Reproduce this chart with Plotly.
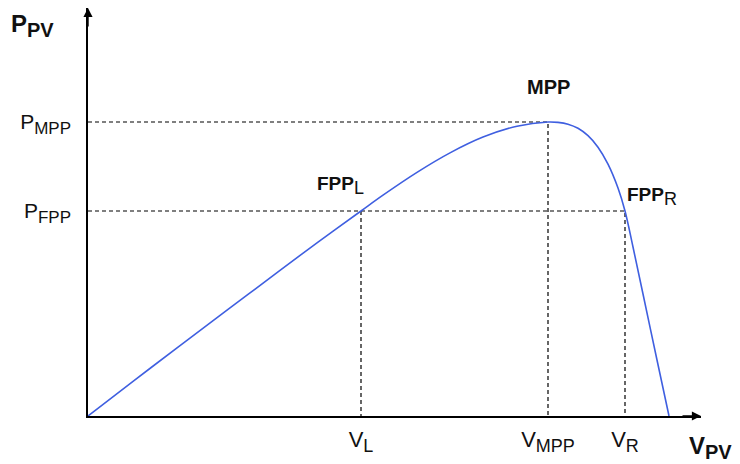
import plotly.graph_objects as go

# PV curve (arbitrary units)
V = [0, 46, 92, 140, 192, 230, 273, 295, 329, 362, 395, 429, 460, 470, 480, 490, 500, 510, 520, 530, 537, 545, 555, 569, 581]
P = [0, 35.4, 70.4, 106.6, 145.6, 173.9, 205, 220.8, 243.6, 263.1, 278.9, 289.8, 294, 293.6, 291.8, 287.7, 280.3,
     268.8, 251.8, 227.9, 205, 169, 122, 56, 0]

V_MPP, P_MPP = 460, 294
V_L, V_R, P_FPP = 273, 537, 205
X_MAX, Y_MAX = 613, 408

FONT = "Liberation Sans, Arial, sans-serif"
TXT = "#111111"
BLUE = "#3f5fe0"

fig = go.Figure()

dash = dict(color="black", width=1.2, dash="4px,3px")
# dashed guides
fig.add_trace(go.Scatter(x=[0, V_MPP, V_MPP], y=[P_MPP, P_MPP, 0], mode="lines", line=dash, hoverinfo="skip"))
fig.add_trace(go.Scatter(x=[0, V_R, V_R], y=[P_FPP, P_FPP, 0], mode="lines", line=dash, hoverinfo="skip"))
fig.add_trace(go.Scatter(x=[V_L, V_L], y=[P_FPP, 0], mode="lines", line=dash, hoverinfo="skip"))

# curve
fig.add_trace(go.Scatter(x=V, y=P, mode="lines", line=dict(color=BLUE, width=1.6, shape="spline", smoothing=1)))

def sub(main, s, ssize, bold_main=False, bold_sub=False):
    m = f"<b>{main}</b>" if bold_main else main
    ss = f"<b>{s}</b>" if bold_sub else s
    return f"{m}<sub><span style='font-size:{ssize}px'>{ss}</span></sub>"

ann = []
# arrows
ann.append(dict(x=X_MAX, y=0, ax=X_MAX - 20, ay=0, xref="x", yref="y", axref="x", ayref="y",
                text="", showarrow=True, arrowhead=2, arrowsize=1.3, arrowwidth=1.4, arrowcolor="black"))
ann.append(dict(x=0, y=Y_MAX, ax=0, ay=Y_MAX - 20, xref="x", yref="y", axref="x", ayref="y",
                text="", showarrow=True, arrowhead=2, arrowsize=1.3, arrowwidth=1.4, arrowcolor="black"))
# axis titles
ann.append(dict(x=0, y=Y_MAX, xref="x", yref="y", xanchor="left", yanchor="top", xshift=-79, yshift=0,
                text=sub("P", "PV", 20, True, True), showarrow=False, font=dict(size=24, color=TXT, family=FONT)))
ann.append(dict(x=X_MAX, y=0, xref="x", yref="y", xanchor="left", yanchor="top", xshift=-14, yshift=-14,
                text=sub("V", "PV", 20, True, True), showarrow=False, font=dict(size=24, color=TXT, family=FONT)))
# point labels
ann.append(dict(x=V_MPP, y=P_MPP, xref="x", yref="y", xanchor="center", yanchor="bottom", yshift=22,
                text="<b>MPP</b>", showarrow=False, font=dict(size=20, color=TXT, family=FONT)))
ann.append(dict(x=V_L, y=P_FPP, xref="x", yref="y", xanchor="right", yanchor="bottom", xshift=5, yshift=11,
                text=sub("FPP", "L", 18, True, False), showarrow=False, font=dict(size=19, color=TXT, family=FONT)))
ann.append(dict(x=V_R, y=P_FPP, xref="x", yref="y", xanchor="left", yanchor="bottom", xshift=0, yshift=0,
                text=sub("FPP", "R", 18, True, False), showarrow=False, font=dict(size=19, color=TXT, family=FONT)))

fig.update_layout(
    width=740, height=464,
    margin=dict(l=88, r=39, t=8, b=48),
    paper_bgcolor="white", plot_bgcolor="white",
    showlegend=False,
    annotations=ann,
    xaxis=dict(range=[0, X_MAX], showgrid=False, zeroline=False, showline=True, linecolor="black", linewidth=1.5,
               tickvals=[V_L, V_MPP, V_R],
               ticktext=[sub("V", "L", 18), sub("V", "MPP", 18), sub("V", "R", 18)],
               ticks="", tickfont=dict(size=22, color=TXT, family=FONT), ticklabelstandoff=3),
    yaxis=dict(range=[0, Y_MAX], showgrid=False, zeroline=False, showline=True, linecolor="black", linewidth=1.5,
               tickvals=[P_FPP, P_MPP],
               ticktext=[sub("P", "FPP", 17), sub("P", "MPP", 17)],
               ticks="", tickfont=dict(size=21, color=TXT, family=FONT), ticklabelstandoff=11),
)

fig.write_html("out.html")
